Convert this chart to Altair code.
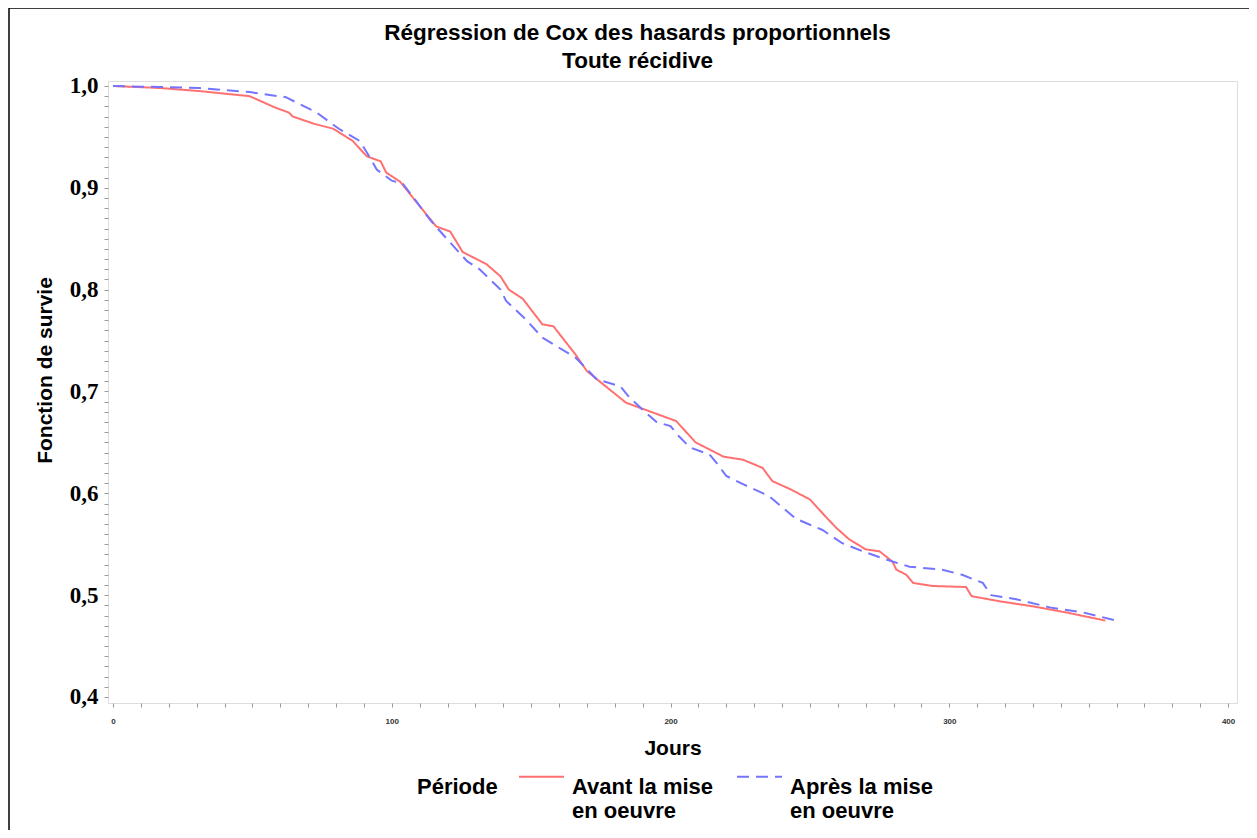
import altair as alt
import pandas as pd

periodes = ["Avant la mise en oeuvre", "Après la mise en oeuvre"]

jours_avant = [0, 17, 31, 49, 58, 63, 64.5, 72, 79, 86, 91, 96, 98, 103, 110, 116, 121, 125.4,
               134, 139, 142, 147, 154, 158, 166, 170, 174.5, 184, 189, 202, 209, 219, 226, 233,
               236.5, 243, 250, 256, 259.5, 264, 270, 275, 279.6, 281, 284.6, 287, 294, 306, 308,
               318, 330, 342, 356]
survie_avant = [1.0, 0.998, 0.995, 0.990, 0.979, 0.974, 0.970, 0.963, 0.958, 0.946, 0.931, 0.926,
                0.915, 0.906, 0.882, 0.862, 0.857, 0.837, 0.825, 0.813, 0.800, 0.791, 0.766, 0.764,
                0.736, 0.720, 0.710, 0.689, 0.684, 0.671, 0.650, 0.636, 0.633, 0.625, 0.612, 0.604,
                0.594, 0.576, 0.566, 0.555, 0.545, 0.543, 0.533, 0.525, 0.520, 0.512, 0.509, 0.508,
                0.499, 0.494, 0.489, 0.483, 0.475]

jours_apres = [0, 17, 31, 49, 62, 73, 81, 88.5, 91, 94.6, 100, 104, 109, 113.6, 119.7, 127, 131.5,
               139, 141, 148, 154, 166, 173.5, 182, 185, 190, 195, 200, 203, 207, 214, 216.5, 220,
               226, 235.5, 245, 254.5, 261.6, 270, 279.6, 285.7, 297.5, 304.6, 312, 315, 324, 336,
               348, 360]
survie_apres = [1.0, 0.999, 0.998, 0.994, 0.989, 0.974, 0.958, 0.946, 0.935, 0.918, 0.907, 0.904,
                0.886, 0.869, 0.850, 0.828, 0.820, 0.800, 0.789, 0.771, 0.753, 0.733, 0.712, 0.705,
                0.695, 0.682, 0.670, 0.666, 0.656, 0.645, 0.638, 0.630, 0.617, 0.609, 0.597, 0.575,
                0.564, 0.551, 0.542, 0.533, 0.528, 0.525, 0.520, 0.512, 0.500, 0.496, 0.488, 0.483,
                0.475]

x_ticks = list(range(0, 401, 10))
y_ticks = [round(0.40 + 0.01 * i, 2) for i in range(61)]

df = pd.concat([
    pd.DataFrame({"Jours": jours_avant, "Survie": survie_avant, "Période": periodes[0]}),
    pd.DataFrame({"Jours": jours_apres, "Survie": survie_apres, "Période": periodes[1]}),
], ignore_index=True)

W, H = 1129, 622
SANS = "Liberation Sans"

legend = alt.Legend(
    title="Période", orient="none", legendX=309, legendY=672, direction="horizontal",
    titleOrient="left", titleFont=SANS, titleFontSize=22, titleFontWeight="bold", titleColor="black",
    titlePadding=20, labelFont=SANS, labelFontSize=22, labelFontWeight="bold", labelColor="black",
    labelExpr="[replace(datum.label, ' en oeuvre', ''), 'en oeuvre']",
    labelBaseline="top", labelOffset=7, labelLimit=300,
    symbolType="stroke", symbolSize=2025, symbolStrokeWidth=2, columnPadding=19, padding=0,
)

lines = alt.Chart(df).mark_line(strokeWidth=2, clip=True).encode(
    x=alt.X("Jours:Q", title="Jours",
            scale=alt.Scale(domain=[-1.8, 403.2], nice=False, zero=False),
            axis=alt.Axis(values=x_ticks, grid=False, domain=False,
                          labelExpr="datum.value % 100 == 0 ? datum.label : ''",
                          labelFont=SANS, labelFontSize=8, labelFontWeight="bold", labelColor="#333",
                          labelPadding=10, tickColor="#999", tickSize=4,
                          titleFont=SANS, titleFontSize=21, titleFontWeight="bold", titleColor="black",
                          titleY=34)),
    y=alt.Y("Survie:Q", title="Fonction de survie",
            scale=alt.Scale(domain=[0.3941, 1.0049], nice=False, zero=False),
            axis=alt.Axis(values=y_ticks, grid=False, domain=False,
                          labelExpr="abs(datum.value*10 - round(datum.value*10)) < 0.001 ? replace(format(datum.value, '.1f'), '.', ',') : ''",
                          labelFont="Liberation Serif", labelFontSize=23, labelFontWeight="bold",
                          labelColor="black", labelPadding=6, tickColor="#999", tickSize=4,
                          titleFont=SANS, titleFontSize=21, titleFontWeight="bold", titleColor="black",
                          titleX=-63, titleY=289, titleAngle=270, titleAlign="center",
                          titleBaseline="middle")),
    color=alt.Color("Période:N", scale=alt.Scale(domain=periodes, range=["#ff7070", "#7474ff"]),
                    legend=legend),
    strokeDash=alt.StrokeDash("Période:N",
                              scale=alt.Scale(domain=periodes, range=[[1, 0], [12, 7]]),
                              legend=legend),
)

border = alt.Chart(alt.Data(values=[{}])).mark_rect(
    fillOpacity=0, stroke="black", strokeWidth=1.5
).encode(x=alt.value(-99), x2=alt.value(W + 80), y=alt.value(-73), y2=alt.value(H + 300))

chart = alt.layer(border, lines).properties(
    width=W, height=H,
    title=alt.Title("Régression de Cox des hasards proportionnels",
                    subtitle="Toute récidive",
                    font=SANS, fontSize=22.5, fontWeight="bold", color="black",
                    subtitleFont=SANS, subtitleFontSize=22.5, subtitleFontWeight="bold",
                    subtitleColor="black", subtitlePadding=5,
                    anchor="middle", frame="group", dx=-35, dy=75, offset=10),
    padding={"left": 100, "top": 73, "right": 12, "bottom": 127},
    autosize=alt.AutoSizeParams(type="none"),
).configure_view(stroke="#ababab", strokeWidth=3).configure(background="white")

chart.save("out.html", embed_options={"renderer": "svg", "actions": False})
